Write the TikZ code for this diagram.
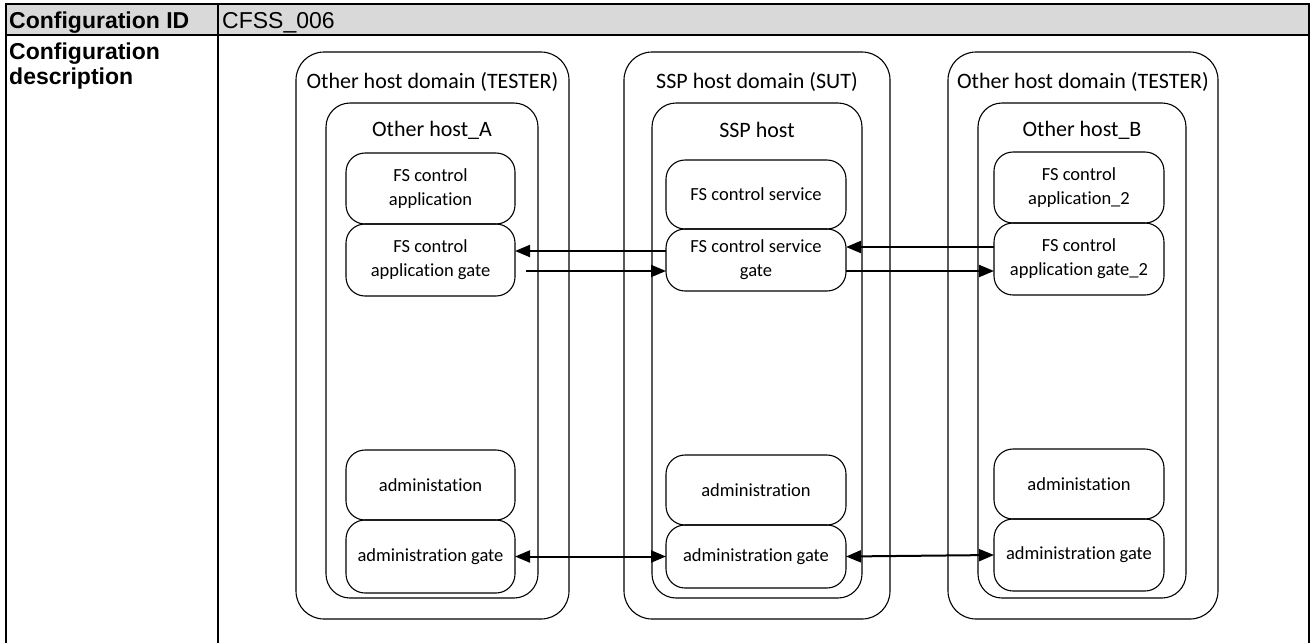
\documentclass[tikz,border=0pt]{standalone}
\usepackage{fontspec}
\setmainfont{Carlito}[Ligatures=NoCommon]
\newfontfamily\arialf{Liberation Sans}
\usetikzlibrary{arrows.meta}
\definecolor{hdrgray}{RGB}{217,217,217}
\begin{document}
\begin{tikzpicture}[x=1pt,y=-1pt,
  tblline/.style={line width=2.2pt, black},
  hdrtext/.style={font=\arialf\bfseries\fontsize{23}{25}\selectfont, inner sep=0pt},
  valtext/.style={font=\arialf\fontsize{23}{25}\selectfont, inner sep=0pt},
  dombox/.style={draw, line width=1.1pt, rounded corners=28pt, inner sep=0pt, outer sep=0pt},
  hostbox/.style={draw, line width=1.1pt, rounded corners=24pt, inner sep=0pt, outer sep=0pt},
  compbox/.style={draw, line width=1.1pt, rounded corners=19pt, inner sep=0pt, outer sep=0pt, align=center,
     font=\fontsize{18.5}{24}\selectfont},
  titletext/.style={font=\fontsize{22}{25}\selectfont, inner sep=0pt},
  msg/.style={line width=2pt, -{Triangle[length=15pt,width=12pt]}},
  msgboth/.style={line width=2pt, {Triangle[length=15pt,width=12pt]}-{Triangle[length=15pt,width=12pt]}}
]
\useasboundingbox (0,0) rectangle (1313,643);
% table
\fill[hdrgray] (6,4) rectangle (1309,35);
\draw[tblline] (6,643) -- (6,4) -- (1309,4) -- (1309,643);
\draw[tblline] (6,35) -- (1309,35);
\draw[tblline] (218,4) -- (218,643);
\node[hdrtext, anchor=base west] (cid) at (9,28) {Configuration ID};
\node[valtext, anchor=base west] (cval) at (222,28) {CFSS\_006};
\node[hdrtext, anchor=north west, align=left, font=\arialf\bfseries\fontsize{23}{24.5}\selectfont] (cdesc) at (9,43) {Configuration\\description};
% domains
\node[dombox, minimum width=273pt, minimum height=567pt] (d1) at (432.5,335.5) {};
\node[dombox, minimum width=266pt, minimum height=567pt] (d2) at (757,335.5) {};
\node[dombox, minimum width=270pt, minimum height=567pt] (d3) at (1083,335.5) {};
\node[titletext] (d1t) at (432.5,82) {Other host domain (TESTER)};
\node[titletext] (d2t) at (757,82) {SSP host domain (SUT)};
\node[titletext] (d3t) at (1083,82) {Other host domain (TESTER)};
% hosts
\node[hostbox, minimum width=212pt, minimum height=495pt] (ha) at (432,350.5) {};
\node[hostbox, minimum width=210pt, minimum height=495pt] (hs) at (757,350.5) {};
\node[hostbox, minimum width=208pt, minimum height=495pt] (hb) at (1082,350.5) {};
\node[titletext] (hat) at (432,130) {Other host\_A};
\node[titletext] (hst) at (757,130) {SSP host};
\node[titletext] (hbt) at (1082,130) {Other host\_B};
% host A components
\node[compbox, minimum width=169pt, minimum height=71pt] (aapp) at (430.5,188.5) {FS control\\application};
\node[compbox, minimum width=169pt, minimum height=72pt] (agate) at (430.5,260) {FS control\\application gate};
\node[compbox, minimum width=169pt, minimum height=70pt] (aadm) at (430.5,485) {administation};
\node[compbox, minimum width=169pt, minimum height=73pt] (aadmg) at (430.5,556.5) {administration gate};
% SSP components
\node[compbox, minimum width=180pt, minimum height=69pt] (ssvc) at (756,194.5) {FS control service};
\node[compbox, minimum width=180pt, minimum height=62pt] (sgate) at (756,260) {FS control service\\gate};
\node[compbox, minimum width=180pt, minimum height=70pt] (sadm) at (756,490) {administration};
\node[compbox, minimum width=180pt, minimum height=63pt] (sadmg) at (756,556.5) {administration gate};
% host B components
\node[compbox, minimum width=170pt, minimum height=71pt] (bapp) at (1079,187.5) {FS control\\application\_2};
\node[compbox, minimum width=170pt, minimum height=72pt] (bgate) at (1079,259) {FS control\\application gate\_2};
\node[compbox, minimum width=170pt, minimum height=70pt] (badm) at (1079,484) {administation};
\node[compbox, minimum width=170pt, minimum height=72pt] (badmg) at (1079,555) {administration gate};
% connectors
\draw[msg] ([yshift=9pt]sgate.west) -- ([yshift=9pt]agate.east);
\draw[msg] ([xshift=11pt,yshift=-11pt]agate.east) -- ([yshift=-11pt]sgate.west);
\draw[msg] ([yshift=12pt]bgate.west) -- ([yshift=13pt]sgate.east);
\draw[msg] ([yshift=-11pt]sgate.east) -- ([yshift=-12pt]bgate.west);
\draw[msgboth] (aadmg.east) -- (sadmg.west);
\draw[msgboth] (sadmg.east) -- (badmg.west);
\end{tikzpicture}
\end{document}
